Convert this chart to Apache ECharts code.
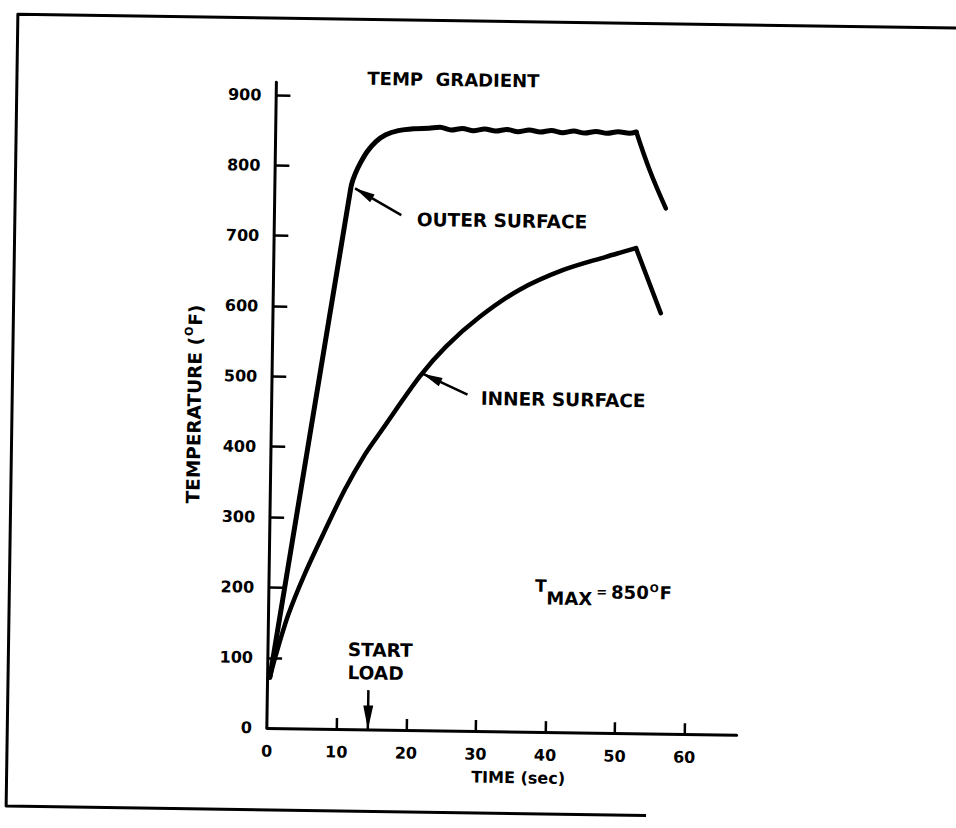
<!DOCTYPE html>
<html>
<head>
<meta charset="utf-8">
<title>Temp gradient</title>
<script src="https://cdn.jsdelivr.net/npm/echarts@6/dist/echarts.min.js"></script>
<style>
  html, body { margin: 0; padding: 0; background: #fff; overflow: hidden; }
  /* the scanned page sits a little crooked */
  #chart { width: 956px; height: 828px; transform: rotate(0.85deg); background: #fff; }
</style>
</head>
<body>
<div id="chart"></div>
<script>
// values: time (sec) / temperature (deg F)
const outerTime = [0.3, 5.5, 10.7, 11.0, 11.5, 12.2, 13.2, 14.4, 15.8, 17.6, 19.8, 22.0, 23.6, 25.2, 26.8, 28.4, 30.0, 31.6, 33.2, 34.8, 36.4, 38.0, 39.6, 41.2, 42.8, 44.4, 46.0, 47.6, 49.2, 50.8, 51.8, 53.8, 56.2]
const outerTemp = [72, 415, 757, 775, 790, 805, 822, 836, 846, 852, 855, 856, 857.5, 854, 856.5, 853.5, 856, 853.5, 856, 853, 855.5, 853, 855.5, 852.5, 855, 852.5, 855, 852.5, 855, 853, 855, 801, 747]
const outerPeakTime = 51.8 // heating stops, surface starts to cool

const innerTime = [0.3, 1.0, 2.8, 5.1, 7.9, 10.7, 13.5, 15.8, 21.2, 24.9, 29.7, 35.3, 41.5, 47.7, 50.0, 52.0, 55.7]
const innerTemp = [72, 100, 161, 220, 282, 341, 391, 425, 503, 546, 589, 628, 657, 677, 684, 690, 598]
const innerPeakTime = 52.0

const timeTicks = [0, 10, 20, 30, 40, 50, 60]
const tempTicks = [0, 100, 200, 300, 400, 500, 600, 700, 800, 900]

// pointer arrows: [tail, tip]
const outerArrow = [[18.2, 732], [11.5, 769]]
const innerArrow = [[28.1, 478], [21.6, 507]]
const loadArrow = [[14.5, 56], [14.5, 0]]

const FONT = 'DejaVu Sans'

function zip (xs, ys) {
  return xs.map((x, i) => [x, ys[i]])
}

// split a curve at its peak so the heating part can be smoothed and the corner stays sharp
function heating (xs, ys, peak) {
  return zip(xs, ys).filter(p => p[0] <= peak)
}
function cooling (xs, ys, peak) {
  return zip(xs, ys).filter(p => p[0] >= peak)
}

function arrow (pts, w, h) {
  return [
    { coord: pts[0] },
    { coord: pts[1], symbol: 'triangle', symbolSize: [w, h], symbolOffset: [0, h / 2] }
  ]
}

const chart = echarts.init(document.getElementById('chart'), null, { renderer: 'svg' })

const boldText = (size) => ({ fontFamily: FONT, fontWeight: 'bold', fontSize: size, fill: '#000' })

const curveStyle = (w) => ({ color: '#000', width: w, cap: 'round', join: 'round' })

const option = {
  animation: false,
  backgroundColor: '#fff',
  grid: { left: 271.7, right: 214.6, top: 85.4, bottom: 96.9 },
  xAxis: {
    type: 'value',
    min: 0,
    max: 67.5,
    name: 'TIME (sec)',
    nameLocation: 'middle',
    nameGap: 38,
    nameTextStyle: { color: '#000', fontFamily: FONT, fontWeight: 'bold', fontSize: 16, padding: [0, 0, 0, 34] },
    axisLine: { show: true, lineStyle: { color: '#000', width: 3 } },
    axisTick: { show: true, inside: true, length: 11, lineStyle: { color: '#000', width: 2.5 }, customValues: timeTicks.slice(1) },
    axisLabel: { customValues: timeTicks, margin: 15, color: '#000', fontFamily: FONT, fontWeight: 'bold', fontSize: 16 },
    splitLine: { show: false }
  },
  yAxis: {
    type: 'value',
    min: 0,
    max: 918,
    name: '{t|TEMPERATURE (}{s|O}{t|F)}',
    nameLocation: 'middle',
    nameGap: 66,
    nameTextStyle: {
      rich: {
        t: { color: '#000', fontFamily: FONT, fontWeight: 'bold', fontSize: 18.5 },
        s: { color: '#000', fontFamily: FONT, fontWeight: 'bold', fontSize: 11, padding: [0, 1, 12, 1] }
      }
    },
    axisLine: { show: true, lineStyle: { color: '#000', width: 3 } },
    axisTick: { show: true, inside: true, length: 14, lineStyle: { color: '#000', width: 2.5 }, customValues: tempTicks.slice(1) },
    axisLabel: { customValues: tempTicks, margin: 15, color: '#000', fontFamily: FONT, fontWeight: 'bold', fontSize: 16 },
    splitLine: { show: false }
  },
  series: [
    {
      name: 'OUTER SURFACE',
      type: 'line',
      data: heating(outerTime, outerTemp, outerPeakTime),
      symbol: 'none',
      silent: true,
      smooth: 0.3,
      lineStyle: curveStyle(5),
      markLine: {
        silent: true,
        symbol: ['none', 'triangle'],
        label: { show: false },
        emphasis: { disabled: true },
        lineStyle: { color: '#000', width: 2.5, type: 'solid' },
        data: [
          arrow(outerArrow, 9, 20),
          arrow(innerArrow, 9, 20),
          arrow(loadArrow, 10, 24)
        ]
      }
    },
    {
      name: 'OUTER SURFACE cooling',
      type: 'line',
      data: cooling(outerTime, outerTemp, outerPeakTime),
      symbol: 'none',
      silent: true,
      smooth: 0.4,
      lineStyle: curveStyle(4.5)
    },
    {
      name: 'INNER SURFACE',
      type: 'line',
      data: heating(innerTime, innerTemp, innerPeakTime),
      symbol: 'none',
      silent: true,
      smooth: 0.3,
      lineStyle: curveStyle(4.5)
    },
    {
      name: 'INNER SURFACE cooling',
      type: 'line',
      data: cooling(innerTime, innerTemp, innerPeakTime),
      symbol: 'none',
      silent: true,
      lineStyle: curveStyle(4.5)
    }
  ],
  graphic: [
    // page frame
    {
      type: 'polyline',
      silent: true,
      shape: { points: [[970, 21], [12, 21], [12, 813], [652, 813]] },
      style: { stroke: '#000', lineWidth: 3, fill: null, lineJoin: 'round' }
    },
    { type: 'text', x: 448.5, y: 80, style: Object.assign({ text: 'TEMP  GRADIENT', align: 'center', verticalAlign: 'middle' }, boldText(18)) },
    { type: 'text', x: 414, y: 220.4, style: Object.assign({ text: 'OUTER SURFACE', align: 'left', verticalAlign: 'middle' }, boldText(18.5)) },
    { type: 'text', x: 480.5, y: 398.3, style: Object.assign({ text: 'INNER SURFACE', align: 'left', verticalAlign: 'middle' }, boldText(18.5)) },
    { type: 'text', x: 351.4, y: 663, style: Object.assign({ text: 'START\nLOAD', align: 'left', verticalAlign: 'middle', lineHeight: 23 }, boldText(18.5)) },
    {
      type: 'text',
      x: 537.6,
      y: 590,
      style: {
        text: '{t|T}{m|MAX}{eq|=}{n|850}{o|O}{n|F}',
        align: 'left',
        verticalAlign: 'middle',
        rich: {
          t: Object.assign({ padding: [0, 0, 10, 0] }, boldText(17)),
          m: Object.assign({ padding: [14, 0, 0, 0] }, boldText(18)),
          eq: Object.assign({ padding: [0, 4, 0, 4] }, boldText(13)),
          n: boldText(18),
          o: Object.assign({ padding: [0, 1, 9, 1] }, boldText(10.5))
        }
      }
    }
  ]
}

chart.setOption(option)
</script>
</body>
</html>
